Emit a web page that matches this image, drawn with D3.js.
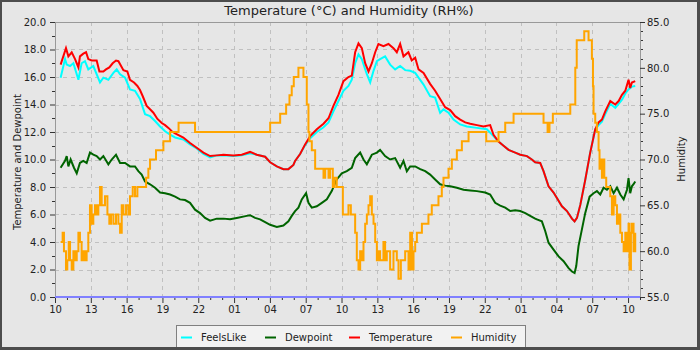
<!DOCTYPE html>
<html><head><meta charset="utf-8">
<script src="https://cdn.jsdelivr.net/npm/d3@7"></script>
<style>body{margin:0;background:#e6e6e6}svg{display:block;font-family:"DejaVu Sans",sans-serif}</style>
</head><body><svg id="c" width="700" height="350"></svg>
<script>
// time axis: hours since 10:00 on day 1
const hourSpan = [0, 49];
const xTickHours = [0,3,6,9,12,15,18,21,24,27,30,33,36,39,42,45,48];
const xTickLabels = ["10","13","16","19","22","01","04","07","10","13","16","19","22","01","04","07","10"];
const leftTicks = [0,2,4,6,8,10,12,14,16,18,20];
const rightTicks = [55,60,65,70,75,80,85];
const seriesNames = ["FeelsLike","Dewpoint","Temperature","Humidity"];
const seriesColors = ["#00ffff","#006400","#ff0000","#ffa500"];

const temperature = [[0.47,16.9],[0.92,18.1],[1.12,17.5],[1.40,17.8],[1.68,17.3],[1.82,17.0],[1.96,16.7],[2.09,17.5],[2.37,17.7],[2.60,17.8],[2.79,17.3],[3.07,17.2],[3.49,17.2],[3.72,16.4],[4.05,16.4],[4.27,16.55],[4.55,16.7],[4.83,17.0],[5.11,17.2],[5.31,17.15],[5.50,16.85],[5.73,16.5],[6.06,16.4],[6.28,15.8],[6.62,15.6],[6.90,15.35],[7.12,15.05],[7.35,14.6],[7.68,13.9],[7.96,13.65],[8.24,13.4],[8.58,12.95],[8.94,12.65],[9.22,12.5],[9.50,12.3],[9.78,12.05],[10.06,11.9],[10.75,11.6],[11.31,11.2],[11.87,10.85],[12.43,10.5],[12.99,10.25],[13.55,10.3],[14.11,10.35],[14.94,10.3],[15.64,10.35],[16.34,10.55],[16.90,10.35],[17.60,10.2],[18.02,9.8],[18.58,9.5],[19.13,9.3],[19.55,9.3],[19.97,9.6],[20.11,9.9],[20.53,10.4],[20.95,11.1],[21.37,11.7],[21.93,12.2],[22.49,12.6],[22.91,13.0],[23.32,13.9],[23.74,14.7],[24.16,15.7],[24.58,16.0],[24.86,16.1],[25.14,17.8],[25.42,18.45],[25.70,18.1],[25.98,17.0],[26.26,16.4],[26.54,17.0],[26.82,17.8],[27.09,18.4],[27.51,18.25],[27.93,18.4],[28.35,18.1],[28.63,17.8],[28.91,18.4],[29.19,17.5],[29.60,17.8],[29.88,17.2],[30.17,17.4],[30.45,16.55],[30.87,16.3],[31.42,15.5],[31.84,15.0],[32.26,14.4],[32.68,13.8],[33.10,13.6],[33.52,13.15],[33.94,12.9],[34.36,12.7],[34.78,12.6],[35.34,12.5],[35.89,12.4],[36.45,12.5],[36.73,11.8],[37.15,11.3],[37.57,11.0],[37.99,10.7],[38.55,10.5],[38.97,10.35],[39.53,10.25],[39.94,10.0],[40.22,9.8],[40.64,9.75],[40.92,9.15],[41.34,8.05],[41.76,7.6],[42.04,7.2],[42.46,6.6],[42.88,6.25],[43.30,5.7],[43.52,5.5],[43.72,5.75],[44.00,6.7],[44.41,8.5],[44.83,10.5],[45.25,12.2],[45.53,12.7],[45.81,12.9],[46.09,13.5],[46.51,14.25],[46.93,14.0],[47.21,14.25],[47.49,14.7],[47.77,15.0],[48.04,15.8],[48.18,15.2],[48.32,15.6],[48.60,15.7]];

const feelsLike = [[0.47,15.95],[0.84,17.3],[0.98,16.9],[1.26,16.8],[1.54,17.0],[1.96,15.8],[2.23,17.0],[2.51,17.15],[2.79,16.55],[3.21,16.8],[3.77,15.6],[4.05,15.95],[4.47,15.8],[4.89,16.3],[5.17,16.55],[5.45,16.2],[5.87,15.95],[6.28,15.1],[6.70,15.0],[7.12,14.4],[7.54,13.3],[7.96,13.15],[8.38,12.8],[8.80,12.4],[9.22,12.05],[9.64,11.8],[10.06,11.6],[10.75,11.45],[11.31,11.1],[11.87,10.8],[12.43,10.4],[12.99,10.15],[13.55,10.3],[14.11,10.3],[14.94,10.25],[15.64,10.3],[16.34,10.45],[16.90,10.35],[17.60,10.2],[18.02,9.8],[18.58,9.5],[19.13,9.3],[19.55,9.3],[19.97,9.6],[20.11,9.9],[20.53,10.4],[20.95,11.05],[21.37,11.55],[21.93,12.0],[22.49,12.35],[22.91,12.7],[23.32,13.5],[23.74,14.25],[24.16,15.0],[24.58,15.35],[24.86,15.8],[25.14,17.0],[25.42,17.65],[25.70,17.3],[26.12,16.2],[26.40,15.6],[26.68,16.45],[26.96,17.15],[27.23,17.3],[27.65,17.5],[28.07,16.9],[28.49,16.55],[28.91,16.8],[29.33,16.5],[29.75,16.45],[30.17,16.3],[30.45,15.95],[30.87,15.45],[31.42,14.6],[31.84,14.5],[32.26,13.4],[32.54,13.65],[32.96,13.4],[33.38,12.9],[33.94,12.55],[34.50,12.4],[35.34,12.3],[36.17,12.2],[36.73,11.7],[37.15,11.3],[37.57,11.0],[37.99,10.7],[38.55,10.5],[38.97,10.35],[39.53,10.25],[39.94,10.0],[40.22,9.8],[40.64,9.75],[40.92,9.15],[41.34,8.05],[41.76,7.6],[42.04,7.2],[42.46,6.6],[42.88,6.25],[43.30,5.7],[43.52,5.5],[43.72,5.75],[44.00,6.7],[44.41,8.5],[44.83,10.5],[45.25,12.2],[45.53,12.5],[45.81,12.75],[46.09,13.3],[46.51,14.05],[46.93,13.75],[47.21,14.05],[47.49,14.35],[47.77,14.8],[48.04,15.1],[48.32,15.3],[48.60,15.35]];

const dewpoint = [[0.47,9.4],[0.84,9.9],[0.98,10.25],[1.12,9.5],[1.31,10.0],[1.59,9.4],[1.82,9.0],[2.09,9.75],[2.37,9.9],[2.65,9.75],[2.93,10.5],[3.21,10.35],[3.49,10.25],[3.77,10.0],[4.05,10.25],[4.47,9.65],[4.75,10.0],[5.11,10.35],[5.45,9.75],[5.87,9.75],[6.28,9.5],[6.70,9.5],[6.98,9.15],[7.26,8.9],[7.54,8.4],[7.96,8.2],[8.38,7.95],[8.80,7.6],[9.22,7.55],[9.64,7.45],[10.06,7.3],[10.47,7.1],[10.89,7.05],[11.31,6.85],[11.73,6.35],[12.15,6.1],[12.57,5.75],[12.99,5.55],[13.55,5.7],[14.11,5.7],[14.66,5.65],[15.22,5.75],[16.06,5.9],[16.34,5.95],[16.76,5.75],[17.18,5.65],[17.60,5.45],[18.02,5.25],[18.58,5.1],[19.13,5.2],[19.55,5.5],[19.83,5.9],[20.11,6.25],[20.39,6.5],[20.67,7.1],[21.03,7.55],[21.23,6.85],[21.51,6.5],[21.93,6.6],[22.35,6.85],[22.77,7.1],[23.18,7.7],[23.60,8.55],[24.02,9.0],[24.44,9.15],[24.86,9.4],[25.14,10.1],[25.56,10.5],[25.84,10.0],[26.12,9.65],[26.54,10.35],[26.96,10.5],[27.23,10.7],[27.65,10.25],[28.07,10.0],[28.49,10.1],[28.91,9.4],[29.19,9.9],[29.47,9.15],[29.75,9.5],[30.17,9.5],[30.59,9.3],[31.01,9.15],[31.42,8.9],[31.84,8.55],[32.26,8.2],[32.68,8.1],[33.10,8.05],[33.66,7.95],[34.22,7.8],[34.78,7.75],[35.34,7.7],[36.03,7.6],[36.45,7.45],[36.87,6.85],[37.29,6.65],[37.71,6.5],[38.13,6.25],[38.55,6.3],[38.97,6.25],[39.39,6.1],[39.80,5.9],[40.22,5.7],[40.36,5.65],[40.78,5.5],[41.06,4.8],[41.34,3.95],[41.76,3.45],[42.18,2.95],[42.60,2.6],[43.02,2.1],[43.30,1.85],[43.52,1.75],[43.66,2.25],[43.85,3.7],[44.13,4.9],[44.41,6.1],[44.78,7.3],[45.11,7.55],[45.39,7.7],[45.67,7.45],[45.95,7.95],[46.23,7.8],[46.51,8.05],[46.79,7.55],[47.07,7.95],[47.35,7.45],[47.63,7.1],[47.91,7.8],[48.04,8.65],[48.18,7.55],[48.32,8.05],[48.46,8.2],[48.60,8.4]];

const humidity = [[0.47,61],[0.64,62],[0.75,60],[0.92,58],[1.03,59],[1.15,61],[1.26,59],[1.40,58],[1.54,60],[1.68,59],[1.82,60],[1.96,62],[2.09,61],[2.23,59],[2.37,60],[2.51,59],[2.65,60],[2.79,62],[2.93,65],[3.07,63],[3.21,64],[3.35,65],[3.49,64],[3.63,65],[3.77,67],[3.91,65],[4.19,66],[4.39,64],[4.55,63],[4.69,64],[4.89,63],[5.11,64],[5.31,63],[5.45,62],[5.59,65],[5.73,64],[5.95,65],[6.15,64],[6.28,66],[6.51,67],[6.70,66],[6.90,67],[7.63,68],[7.82,69],[7.96,70],[8.46,71],[9.08,72],[9.64,73],[10.35,74],[11.73,73],[18.02,74],[18.86,75],[19.36,76],[19.64,77],[19.83,78],[20.0,79],[20.39,80],[20.81,79],[21.09,76],[21.23,73],[21.31,72],[21.51,71],[21.79,69],[22.49,68],[22.63,69],[22.91,68],[23.04,69],[23.27,67],[23.41,68],[23.60,67],[24.11,64],[24.58,65],[24.78,64],[25.14,62],[25.28,59],[25.42,58],[25.56,60],[25.70,59],[25.84,61],[25.98,63],[26.12,64],[26.26,65],[26.40,66],[26.54,64],[26.68,63],[26.82,61],[26.96,59],[27.09,60],[27.23,59],[27.51,61],[27.65,59],[27.79,60],[28.07,58],[28.35,60],[28.63,59],[28.77,57],[28.97,59],[29.33,60],[29.61,58],[29.75,62],[29.90,58],[30.03,60],[30.17,61],[30.31,62],[30.73,63],[31.28,64],[31.56,65],[32.12,66],[32.40,67],[32.54,68],[32.96,69],[33.24,70],[33.66,71],[34.08,72],[34.64,73],[36.12,72],[37.15,73],[37.71,74],[38.41,75],[40.92,74],[41.26,73],[41.42,74],[41.70,75],[43.16,76],[43.58,80],[43.70,83],[44.33,84],[44.69,83],[44.97,81],[45.06,78],[45.11,75],[45.25,74],[45.39,73],[45.53,71],[45.61,69],[45.73,70],[45.81,68],[45.89,70],[46.01,68],[46.17,67],[46.51,66],[46.65,64],[46.79,66],[46.93,65],[47.07,63],[47.21,64],[47.35,62],[47.49,61],[47.63,60],[47.77,62],[47.91,60],[48.04,63],[48.12,58],[48.24,62],[48.32,63],[48.46,60],[48.60,62]];

const svg = d3.select("#c");
const L = 55, R = 640, T = 22, B = 297;
svg.append("rect").attr("width",700).attr("height",350).attr("fill","#4d4d4d");
svg.append("rect").attr("x",2).attr("y",2).attr("width",695).attr("height",345).attr("fill","#e6e6e6");

const x = d3.scaleLinear().domain(hourSpan).range([L, R]);
const yL = d3.scaleLinear().domain([0,20]).range([B, T]);
const yR = d3.scaleLinear().domain([55,85]).range([B, T]);

// grid
const grid = svg.append("g").attr("stroke","#c0c0c0").attr("stroke-dasharray","4,4").attr("stroke-width",1);
leftTicks.filter(v=>v>0&&v<20).forEach(v=>{
  grid.append("line").attr("x1",L).attr("x2",R).attr("y1",Math.round(yL(v))+0.5).attr("y2",Math.round(yL(v))+0.5);
});
xTickHours.filter(h=>h>0).forEach(h=>{
  grid.append("line").attr("y1",T).attr("y2",B).attr("x1",Math.round(x(h))+0.5).attr("x2",Math.round(x(h))+0.5);
});

// frame
svg.append("rect").attr("x",L+0.5).attr("y",T+0.5).attr("width",R-L).attr("height",B-T)
  .attr("fill","none").attr("stroke","#999");

function styleAxis(g){
  g.select(".domain").attr("stroke","#999");
  g.selectAll(".tick line").attr("stroke","#333");
  g.selectAll("text").attr("fill","#222").attr("font-size",10).attr("font-family","DejaVu Sans");
}
// minor ticks
const minor = svg.append("g").attr("stroke","#333");
d3.range(0,50,1).forEach(h=>{ if(h%3!==0) minor.append("line").attr("x1",x(h)+0.5).attr("x2",x(h)+0.5).attr("y1",B).attr("y2",B+3); });
d3.range(1,20,2).forEach(v=>{ minor.append("line").attr("x1",L-3).attr("x2",L).attr("y1",Math.round(yL(v))+0.5).attr("y2",Math.round(yL(v))+0.5); });
d3.range(56,85,1).forEach(v=>{ if(v%5!==0) minor.append("line").attr("x1",R).attr("x2",R+3).attr("y1",Math.round(yR(v))+0.5).attr("y2",Math.round(yR(v))+0.5); });

svg.append("g").attr("transform",`translate(0,${B})`)
  .call(d3.axisBottom(x).tickValues(xTickHours).tickFormat((d,i)=>xTickLabels[i]).tickSize(6).tickSizeOuter(0).tickPadding(3))
  .call(styleAxis);
svg.append("g").attr("transform",`translate(${L},0)`)
  .call(d3.axisLeft(yL).tickValues(leftTicks).tickFormat(d3.format(".1f")).tickSize(5).tickSizeOuter(0).tickPadding(4))
  .call(styleAxis);
svg.append("g").attr("transform",`translate(${R},0)`)
  .call(d3.axisRight(yR).tickValues(rightTicks).tickFormat(d3.format(".1f")).tickSize(5).tickSizeOuter(0).tickPadding(2))
  .call(styleAxis);

// zero baseline
svg.append("line").attr("x1",L).attr("x2",R).attr("y1",yL(0)).attr("y2",yL(0)).attr("stroke","#8080ff").attr("stroke-width",2);

const lineL = d3.line().x(d=>x(d[0])).y(d=>yL(d[1]));
const lineR = d3.line().x(d=>x(d[0])).y(d=>yR(d[1])).curve(d3.curveStepAfter);
const plots = [[feelsLike,lineL],[dewpoint,lineL],[temperature,lineL],[humidity,lineR]];
plots.forEach((p,i)=>{
  svg.append("path").datum(p[0]).attr("d",p[1]).attr("fill","none")
    .attr("stroke",seriesColors[i]).attr("stroke-width",2);
});

// titles
svg.append("text").attr("x",349).attr("y",15).attr("text-anchor","middle").attr("font-size",13).attr("fill","#222")
  .text("Temperature (°C) and Humidity (RH%)");
svg.append("text").attr("transform","translate(20.5,162) rotate(-90)").attr("text-anchor","middle").attr("font-size",10).attr("fill","#222")
  .text("Temperature and Dewpoint");
svg.append("text").attr("transform","translate(685,159) rotate(-90)").attr("text-anchor","middle").attr("font-size",10).attr("fill","#222")
  .text("Humidity");

// legend
const lg = svg.append("g");
lg.append("rect").attr("x",176.5).attr("y",325.5).attr("width",349).attr("height",24).attr("fill","#f2f2f2").attr("stroke","#808080");
const legX = [181,265,349,451];
seriesNames.forEach((n,i)=>{
  lg.append("line").attr("x1",legX[i]).attr("x2",legX[i]+11).attr("y1",337.5).attr("y2",337.5).attr("stroke",seriesColors[i]).attr("stroke-width",2);
  lg.append("text").attr("x",legX[i]+20).attr("y",341).attr("font-size",10).attr("fill","#222").text(n);
});
// redraw border bottom over legend
svg.append("rect").attr("x",0).attr("y",347).attr("width",700).attr("height",3).attr("fill","#4d4d4d");
svg.append("rect").attr("x",697).attr("y",0).attr("width",3).attr("height",350).attr("fill","#4d4d4d");
</script></body></html>
